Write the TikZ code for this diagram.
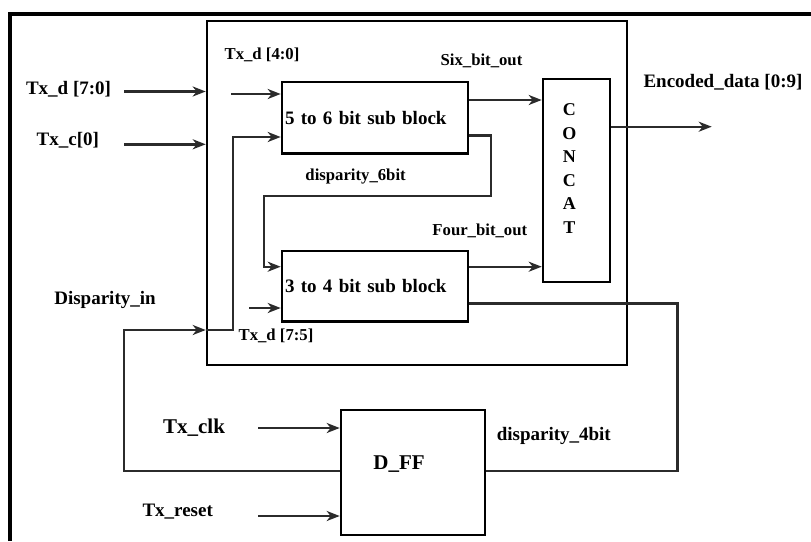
\documentclass[tikz,border=0pt]{standalone}
\usepackage{fontspec}
\setmainfont{Liberation Serif}
\usetikzlibrary{arrows.meta,calc}
\definecolor{wirec}{HTML}{2B2B2B}
\newcommand\lblbig{\fontsize{19}{22}\selectfont\bfseries}
\newcommand\lblsm{\fontsize{16.7}{20}\selectfont\bfseries}
\newcommand\lblhuge{\fontsize{21}{24}\selectfont\bfseries}
\begin{document}
\begin{tikzpicture}[x=1pt,y=-1pt,
  blk/.style={draw=black,line width=2.6pt,inner sep=0pt},
  wire/.style={draw=wirec,line width=2.4pt},
  arr/.style={wire,-{Stealth[length=13pt,width=10pt,inset=4pt]}},
  lbl/.style={anchor=base,inner sep=0pt,text=black}]
\useasboundingbox (0,0) rectangle (811,541);
\fill[white] (0,0) rectangle (811,541);
% outer frame (cropped)
\draw[line width=3.2pt,black] (10,541) -- (10,14) -- (811,14);

% blocks
\node[blk,minimum width=420pt,minimum height=344pt] (big) at (417,193) {};
\node[blk,minimum height=71.5pt,text width=180pt,align=left,inner xsep=3pt,font=\lblbig] (b56) at (375,117.75) {5 to 6 bit sub block};
\node[blk,minimum height=70.6pt,text width=180pt,align=left,inner xsep=3pt,font=\lblbig] (b34) at (375,286.3) {3 to 4 bit sub block};
\node[blk,minimum width=67pt,minimum height=203pt] (concat) at (576.5,180.5) {};
\node[inner sep=0pt,align=center,font=\fontsize{18}{23.5}\selectfont\bfseries] (concattxt) at (569.3,168.5) {C\\O\\N\\C\\A\\T};
\node[blk,minimum width=144pt,minimum height=125pt] (dff) at (413,472.5) {};
\node[lbl,font=\lblhuge] (dfftxt) at (399,469) {D\_FF};

% labels
\node[lbl,font=\lblbig] (lTxd) at (68.5,94.5) {Tx\_d [7:0]};
\node[lbl,font=\lblbig] (lTxc) at (67.8,145) {Tx\_c[0]};
\node[lbl,font=\lblsm] (lTxd40) at (262,59) {Tx\_d [4:0]};
\node[lbl,font=\lblsm] (lSix) at (481.5,65) {Six\_bit\_out};
\node[lbl,font=\lblbig] (lEnc) at (723,87.3) {Encoded\_data [0:9]};
\node[lbl,font=\lblsm] (lD6) at (355.6,180) {disparity\_6bit};
\node[lbl,font=\lblsm] (lFour) at (479.8,235.7) {Four\_bit\_out};
\node[lbl,font=\lblbig] (lDin) at (105,304) {Disparity\_in};
\node[lbl,font=\lblsm] (lTxd75) at (276,340) {Tx\_d [7:5]};
\node[lbl,font=\lblhuge] (lClk) at (194,433.5) {Tx\_clk};
\node[lbl,font=\lblbig] (lD4) at (553.8,440.7) {disparity\_4bit};
\node[lbl,font=\lblbig] (lRst) at (177.7,516.5) {Tx\_reset};

% coordinates
\coordinate (iTxd) at (124,91.5);
\coordinate (iTxc) at (124,144.3);
\coordinate (iTxd40) at (231,94);
\coordinate (iTxd75) at (249,308);
\coordinate (iClk) at (258,428);
\coordinate (iRst) at (258,516);
\coordinate (oEnc) at (711.7,126.7);
\coordinate (lpL) at (124,330);
\coordinate (lpV) at (233,137);
\coordinate (d6R) at (491,195.7);
\coordinate (d6L) at (264,195.7);
\coordinate (fbR) at (677.3,471);
\coordinate (ySix) at (0,100);
\coordinate (yFour) at (0,266.7);
\coordinate (yD6) at (0,135.6);
\coordinate (yEnc) at (0,126.7);
\coordinate (yFb) at (0,303.3);
\coordinate (yDff) at (0,471);

% connectors
\draw[arr] (iTxd) -- (iTxd -| big.west);
\draw[arr] (iTxc) -- (iTxc -| big.west);
\draw[arr] (iTxd40) -- (iTxd40 -| b56.west);
\draw[arr] (iTxd75) -- (iTxd75 -| b34.west);
\draw[arr] (b56.east |- ySix) -- (concat.west |- ySix);
\draw[arr] (b34.east |- yFour) -- (concat.west |- yFour);
\draw[arr] (concat.east |- yEnc) -- (oEnc);
\draw[arr] (b56.east |- yD6) -| (d6R) -- (d6L) |- (b34.west |- yFour);
\draw[wire] (b34.east |- yFb) -| (fbR) -- (dff.east |- fbR);
\draw[arr] (dff.west |- yDff) -| (lpL) -- (lpL -| big.west);
\draw[arr] (lpL -| big.west) -| (lpV) -- (lpV -| b56.west);
\draw[arr] (iClk) -- (iClk -| dff.west);
\draw[arr] (iRst) -- (iRst -| dff.west);
\end{tikzpicture}
\end{document}
